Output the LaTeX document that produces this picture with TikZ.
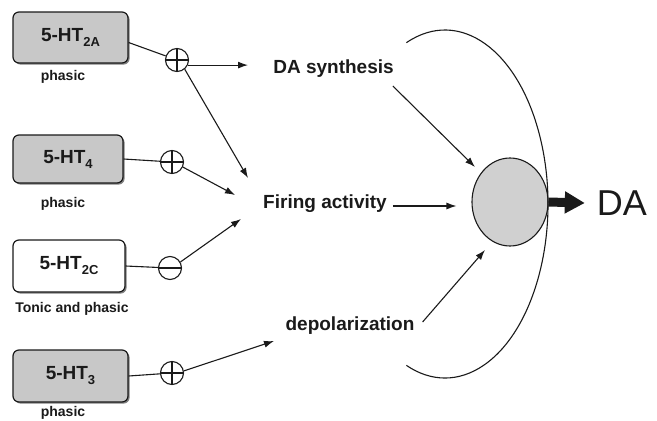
\documentclass[tikz,border=0pt]{standalone}
\usepackage{fontspec}
\setmainfont{Liberation Sans}
\usetikzlibrary{arrows.meta,shadows,shapes.geometric}
\definecolor{boxgray}{HTML}{C8C8C8}
\definecolor{cellgray}{HTML}{D0D0D0}
\definecolor{inkc}{HTML}{1A1A1A}
\newcommand{\recsub}[1]{\raisebox{-5pt}{\fontsize{13}{13}\selectfont #1}}
\begin{document}
\begin{tikzpicture}[x=1pt,y=-1pt,
  rbox/.style={draw=inkc, line width=1.2pt, rounded corners=6pt, inner sep=0pt,
    font=\bfseries\fontsize{19}{22}\selectfont, text=inkc,
    drop shadow={shadow xshift=1.6pt, shadow yshift=-1.6pt, fill=black!50, opacity=1}},
  grayfill/.style={fill=boxgray},
  whitefill/.style={fill=white},
  small/.style={font=\bfseries\fontsize{14}{16}\selectfont, text=inkc, inner sep=0pt},
  lbl/.style={font=\bfseries\fontsize{19}{22}\selectfont, text=inkc, inner sep=0pt},
  sign/.style={circle, draw=inkc, line width=1.1pt, minimum size=23pt, inner sep=0pt},
  plus/.style={sign, path picture={\draw[line width=1.1pt, inkc]
      (path picture bounding box.west) -- (path picture bounding box.east)
      (path picture bounding box.north) -- (path picture bounding box.south);}},
  minus/.style={sign, path picture={\draw[line width=1.1pt, inkc]
      (path picture bounding box.west) -- (path picture bounding box.east);}},
  conn/.style={draw=inkc, line width=1.1pt},
  arr/.style={conn, -{Latex[length=10pt,width=7pt]}}
]
\useasboundingbox (0,0) rectangle (657,421);

% receptor boxes
\node[rbox, grayfill, minimum width=115pt, minimum height=51pt] (b2a) at (70.5,37.5) {5-HT\recsub{2A}};
\node[rbox, grayfill, minimum width=110pt, minimum height=48pt] (b4) at (68,159) {5-HT\recsub{4}};
\node[rbox, whitefill, minimum width=112pt, minimum height=52pt] (b2c) at (69,266) {5-HT\recsub{2C}};
\node[rbox, grayfill, minimum width=115pt, minimum height=52pt] (b3) at (70.5,376) {5-HT\recsub{3}};

\node[small] (l2a) at (63,77) {phasic};
\node[small] (l4) at (63,204) {phasic};
\node[small] (l2c) at (72,309) {Tonic and phasic};
\node[small] (l3) at (63,413) {phasic};

% signs
\node[plus] (p2a) at (177,60) {};
\node[plus] (p4) at (172,162) {};
\node[minus] (m2c) at (170,268) {};
\node[plus] (p3) at (172,373) {};

% middle labels
\node[lbl] (syn) at (333.5,69) {DA synthesis};
\node[lbl] (fir) at (325,204) {Firing activity};
\node[lbl] (dep) at (350,326) {depolarization};

% cell and DA
\node[ellipse, draw=inkc, line width=1.1pt, fill=cellgray, minimum width=76pt, minimum height=88pt, inner sep=0pt] (cell) at (510,202) {};
\node[font=\fontsize{36}{40}\selectfont, text=inkc, inner sep=0pt] (DA) at (622,203) {DA};

% arrow targets
\coordinate (fir1) at (248,178);
\coordinate (fir2) at (235,195);
\coordinate (fir3) at (241,219);
\coordinate (dep1) at (274,341);
\coordinate (cin1) at (475,167);
\coordinate (cin3) at (485,250);

% connectors from boxes to signs
\draw[conn] ([yshift=-5pt]b2a.east) -- (p2a);
\draw[conn] (b4.east) -- (p4);
\draw[conn] (b2c.east) -- (m2c);
\draw[conn] (b3.east) -- (p3);

% arrows from signs
\draw[arr] (p2a.-25) -- (p2a.-25 -| fir1);
\draw[arr] (p2a.-50) -- (fir1);
\draw[arr] (p4.-25) -- (fir2);
\draw[arr] (m2c.30) -- (fir3);
\draw[arr] (p3.10) -- (dep1);

% arrows to cell
\draw[arr] ([shift={(-1,8)}]syn.south east) -- (cin1);
\draw[arr] ([xshift=6pt,yshift=-2pt]fir.east) -- ([xshift=-15pt,yshift=-2pt]cell.west |- fir.east);
\draw[arr] ([shift={(8,-4)}]dep.east) -- (cin3);

% membrane arc
\draw[inkc, line width=1.1pt] (406.4,42.7) arc[start angle=-112, end angle=112, x radius=103, y radius=174];

% output arrow
\draw[inkc, line width=9pt, -{Triangle[length=20pt,width=21pt]}] (cell.east) -- ([xshift=-12pt]DA.west);
\end{tikzpicture}
\end{document}
